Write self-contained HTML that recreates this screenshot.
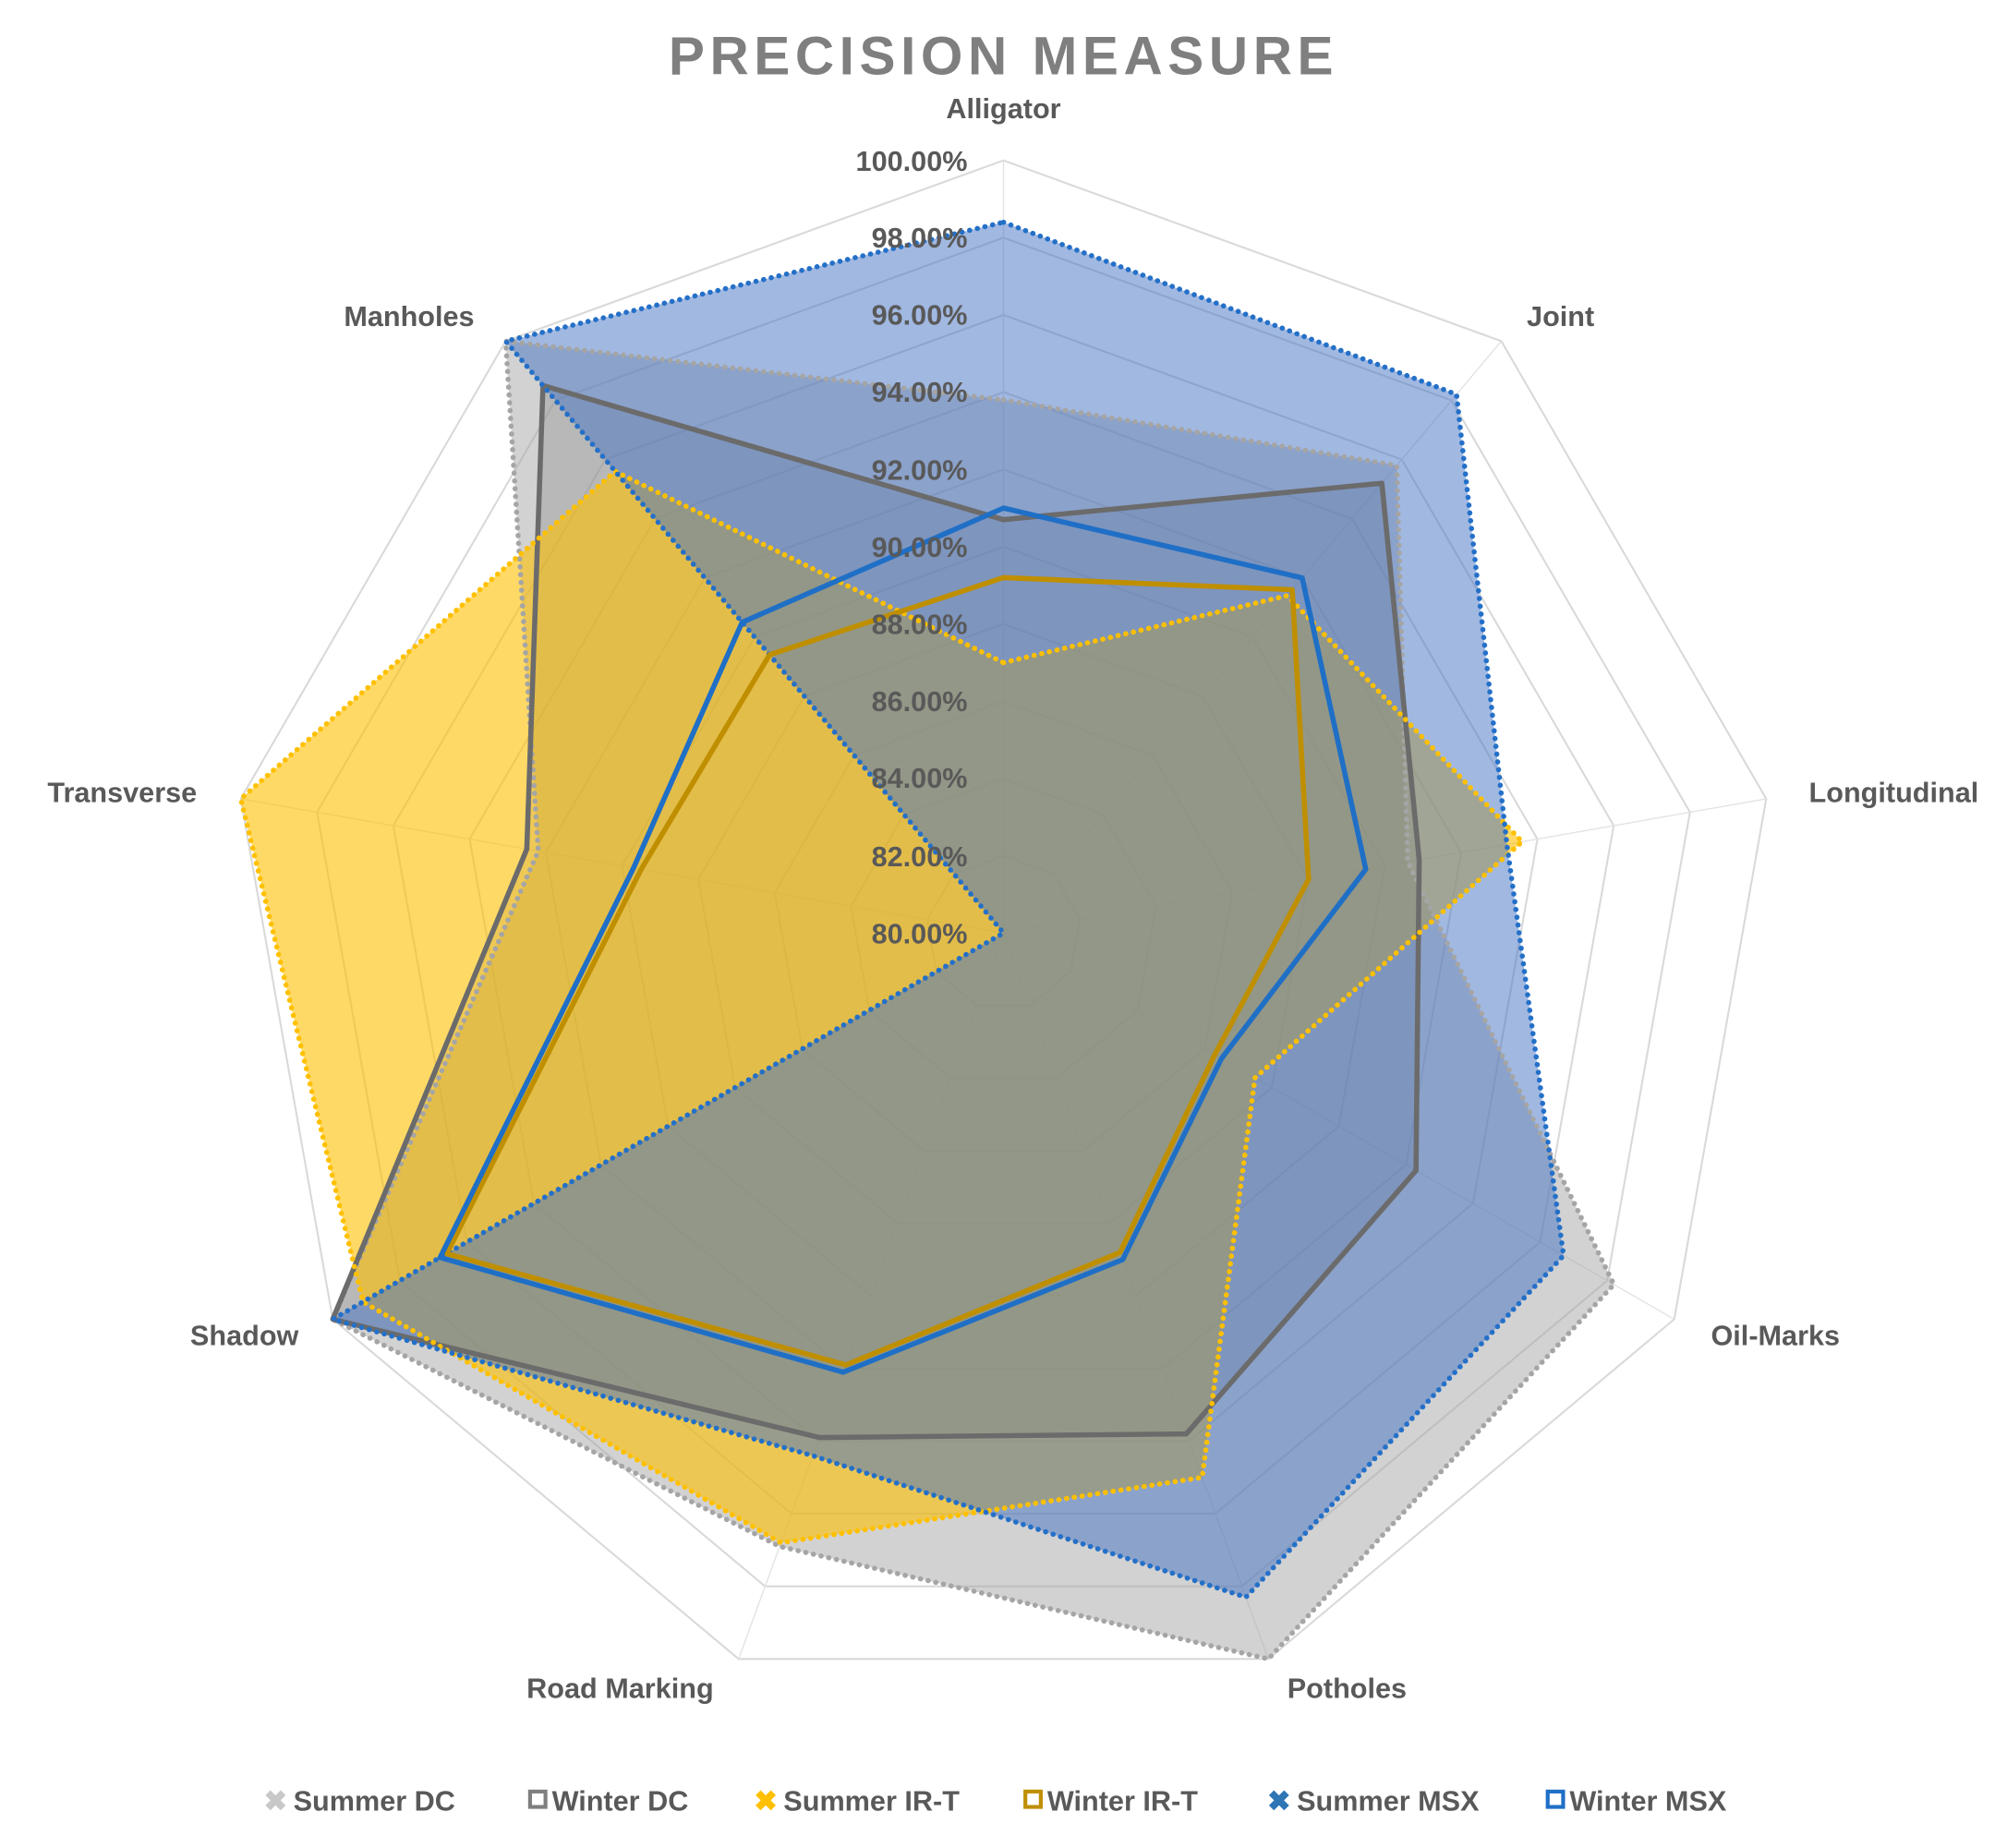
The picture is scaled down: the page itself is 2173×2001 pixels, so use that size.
<!DOCTYPE html>
<html><head><meta charset="utf-8"><style>
html,body{margin:0;padding:0;background:#fff;}
svg{display:block;}
text{font-family:"Liberation Sans",Arial,sans-serif;font-weight:bold;}
</style></head><body>
<svg id="s" width="2173" height="2001" viewBox="0 0 1560 1440" preserveAspectRatio="none" xmlns="http://www.w3.org/2000/svg">
<g id="grid"></g>
<g id="series"></g>
<g font-size="22" fill="#595959" text-anchor="end">
<text x="752" y="133">100.00%</text>
<text x="752" y="193">98.00%</text>
<text x="752" y="253">96.00%</text>
<text x="752" y="313">94.00%</text>
<text x="752" y="374">92.00%</text>
<text x="752" y="434">90.00%</text>
<text x="752" y="494">88.00%</text>
<text x="752" y="554">86.00%</text>
<text x="752" y="614">84.00%</text>
<text x="752" y="675">82.00%</text>
<text x="752" y="735">80.00%</text>
</g>
<text x="780" y="58" font-size="42" fill="#7f7f7f" text-anchor="middle" letter-spacing="4">PRECISION MEASURE</text>
<g font-size="22" fill="#595959" text-anchor="middle">
<text x="780" y="92">Alligator</text>
<text x="1213" y="254">Joint</text>
<text x="1472" y="625">Longitudinal</text>
<text x="1380" y="1048">Oil-Marks</text>
<text x="1047" y="1323">Potholes</text>
<text x="482" y="1323">Road Marking</text>
<text x="190" y="1048">Shadow</text>
<text x="95" y="625">Transverse</text>
<text x="318" y="254">Manholes</text>
</g>
<g font-size="22" fill="#595959">
<text x="205" y="1411" fill="#c8c8c8">✖</text><text x="228" y="1411">Summer DC</text>
<rect x="412" y="1396" width="12" height="12" fill="none" stroke="#7f7f7f" stroke-width="3"/><text x="429" y="1411">Winter DC</text>
<text x="586" y="1411" fill="#ffc000">✖</text><text x="609" y="1411">Summer IR-T</text>
<rect x="797" y="1396" width="12" height="12" fill="none" stroke="#bf8f00" stroke-width="3"/><text x="814" y="1411">Winter IR-T</text>
<text x="985" y="1411" fill="#2e75b6">✖</text><text x="1008" y="1411">Summer MSX</text>
<rect x="1203" y="1396" width="12" height="12" fill="none" stroke="#1f6fc6" stroke-width="3"/><text x="1220" y="1411">Winter MSX</text>
</g>
</svg>
<script>
var cx=780,cy=727,R=602,N=9;
function pt(v,i){var r=R*(v-80)/20;var a=i*2*Math.PI/N;return [cx+r*Math.sin(a),cy-r*Math.cos(a)];}
var g='';
for(var k=1;k<=10;k++){var p=[];for(var i=0;i<N;i++)p.push(pt(80+2*k,i).join(','));
g+='<polygon points="'+p.join(' ')+'" fill="none" stroke="#d9d9d9" stroke-width="1.5"/>';}
for(var i=0;i<N;i++){var q=pt(100,i);g+='<line x1="'+cx+'" y1="'+cy+'" x2="'+q[0]+'" y2="'+q[1]+'" stroke="#e3e3e3" stroke-width="1"/>';}
document.getElementById('grid').innerHTML=g;
var S=[
 {v:[93.8,95.8,90.6,98.2,100,96.9,100,92.2,100],f:'#a5a5a5',l:'#a5a5a5',d:1,o:0.5},
 {v:[90.7,95.2,90.9,92.3,93.8,93.9,100,92.5,98.5],f:'#7f7f7f',l:'#6b6b6b',d:0,o:0.3},
 {v:[87.0,91.4,93.6,87.5,95.0,96.8,99.1,100,95.6],f:'#ffc000',l:'#ffc000',d:1,o:0.6},
 {v:[98.4,98.2,93.2,96.7,98.3,94.4,100,80,100],f:'#4472c4',l:'#2470c8',d:1,o:0.5},
 {v:[89.2,91.6,88.0,86.3,88.8,91.9,96.6,89.5,89.4],f:'none',l:'#bf8f00',d:0,o:0},
 {v:[91.0,92.0,89.5,86.5,89.0,92.1,96.8,89.7,90.5],f:'none',l:'#1f6fc6',d:0,o:0}
];
var h='';
S.forEach(function(s){if(!s.o)return;var p=s.v.map(function(v,i){return pt(v,i).join(',');}).join(' ');
h+='<polygon points="'+p+'" fill="'+s.f+'" fill-opacity="'+s.o+'" stroke="none"/>';});
S.forEach(function(s){var p=s.v.map(function(v,i){return pt(v,i).join(',');}).join(' ');
h+='<polygon points="'+p+'" fill="none" stroke="'+s.l+'" stroke-width="4" stroke-linejoin="round"'+(s.d?' stroke-dasharray="0.1 6" stroke-linecap="round"':'')+'/>';});
document.getElementById('series').innerHTML=h;
</script>
</body></html>
